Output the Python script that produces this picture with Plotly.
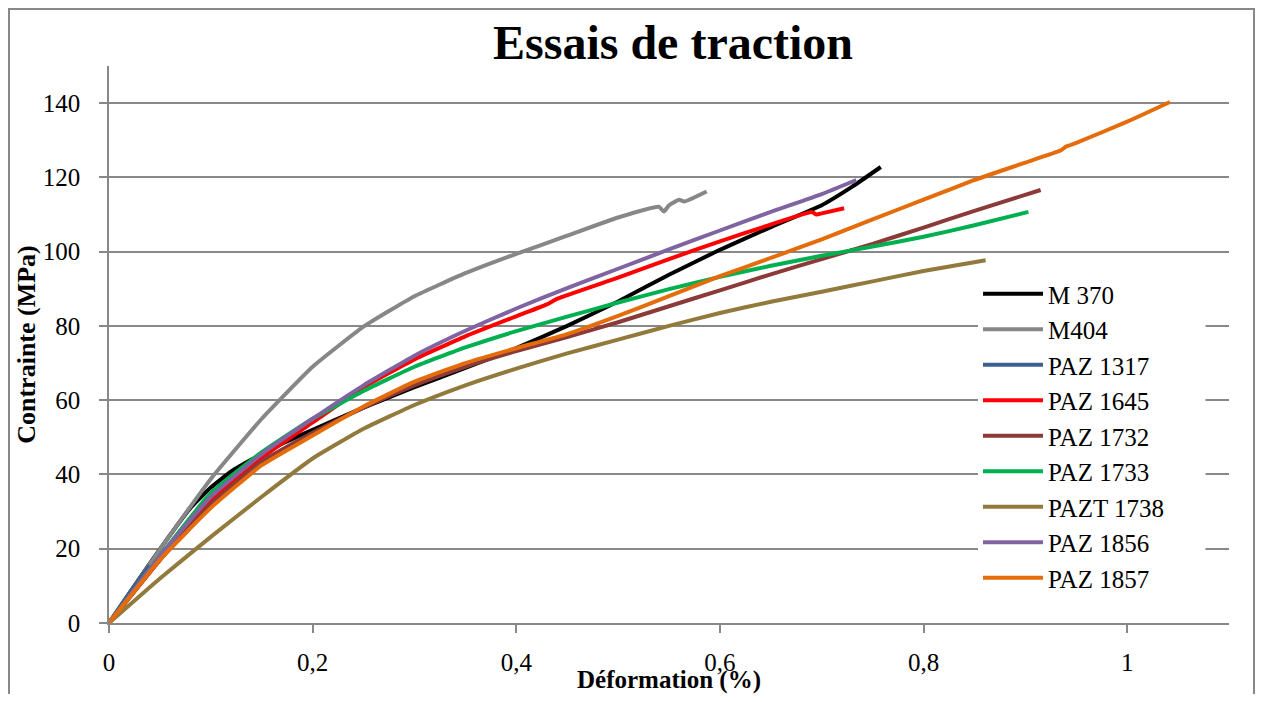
import plotly.graph_objects as go

# ---- data (déformation %, contrainte MPa) ----
m370_x = [0, 0.04, 0.08, 0.1, 0.12, 0.14, 0.17, 0.2, 0.25, 0.3, 0.35, 0.4, 0.45, 0.5, 0.55, 0.6, 0.65, 0.7, 0.73, 0.758]
m370_y = [0, 16, 31, 36.5, 40.8, 44, 48.3, 52, 58, 63.5, 68.7, 74, 80, 86.6, 93.8, 100.5, 106.6, 112.5, 117.5, 122.8]

m404_x = [0, 0.05, 0.1, 0.15, 0.2, 0.25, 0.3, 0.35, 0.4, 0.45, 0.5, 0.54, 0.545, 0.55, 0.56, 0.565, 0.587]
m404_y = [0, 19.8, 38.8, 55, 69, 79.8, 88, 94.2, 99.4, 104.3, 109.2, 112.1, 110.8, 112.5, 114, 113.5, 116.2]

paz1317_x = [0, 0.02, 0.04]
paz1317_y = [0, 8, 15.5]

paz1645_x = [0, 0.05, 0.1, 0.15, 0.2, 0.25, 0.3, 0.35, 0.4, 0.43, 0.44, 0.5, 0.55, 0.6, 0.65, 0.69, 0.695, 0.7, 0.722]
paz1645_y = [0, 17, 33, 44.5, 54, 63.5, 71, 77.2, 82.6, 85.8, 87.3, 93, 98, 102.8, 107.3, 110.7, 110, 110.3, 111.7]

paz1732_x = [0, 0.05, 0.1, 0.15, 0.2, 0.25, 0.3, 0.35, 0.4, 0.45, 0.5, 0.55, 0.6, 0.65, 0.7, 0.75, 0.8, 0.85, 0.915]
paz1732_y = [0, 17, 32, 43.5, 51.2, 58, 64, 69, 73.2, 77, 81, 85.3, 89.6, 93.9, 98, 102.1, 106.5, 111, 116.6]

paz1733_x = [0, 0.05, 0.1, 0.15, 0.2, 0.25, 0.3, 0.35, 0.4, 0.45, 0.5, 0.55, 0.6, 0.65, 0.7, 0.75, 0.8, 0.85, 0.903]
paz1733_y = [0, 18, 35, 46, 55, 62.5, 69, 74.2, 78.6, 82.5, 86.3, 89.9, 93.2, 96.2, 98.9, 101.4, 104, 107.1, 110.7]

pazt1738_x = [0, 0.05, 0.1, 0.15, 0.2, 0.25, 0.3, 0.35, 0.4, 0.45, 0.5, 0.55, 0.6, 0.65, 0.7, 0.75, 0.8, 0.861]
pazt1738_y = [0, 12, 23.2, 34, 44.3, 52.3, 58.7, 64, 68.5, 72.6, 76.3, 80, 83.5, 86.5, 89.2, 92, 94.8, 97.7]

paz1856_x = [0, 0.05, 0.1, 0.15, 0.2, 0.25, 0.3, 0.35, 0.4, 0.45, 0.5, 0.55, 0.6, 0.65, 0.7, 0.734]
paz1856_y = [0, 18, 34, 45.5, 55, 64, 72, 78.7, 84.7, 90.2, 95.4, 100.6, 105.7, 110.7, 115.5, 119.3]

paz1857_x = [0, 0.05, 0.1, 0.15, 0.2, 0.25, 0.3, 0.35, 0.4, 0.45, 0.5, 0.55, 0.6, 0.65, 0.7, 0.75, 0.8, 0.85, 0.9, 0.935, 0.94, 0.95, 1.0, 1.042]
paz1857_y = [0, 17, 31, 42.5, 50.5, 58.3, 65, 70, 74, 77.8, 82.7, 88, 93.4, 98.3, 103.3, 108.7, 114, 119.3, 124, 127.3, 128.3, 129.3, 135, 140.3]

names = ["M 370", "M404", "PAZ 1317", "PAZ 1645", "PAZ 1732", "PAZ 1733", "PAZT 1738", "PAZ 1856", "PAZ 1857"]
colors = ["#000000", "#878787", "#3C5F8E", "#FF0000", "#8B3A38", "#00B050", "#927A3C", "#8064A2", "#E46C0A"]
series = [(m370_x, m370_y), (m404_x, m404_y), (paz1317_x, paz1317_y), (paz1645_x, paz1645_y),
          (paz1732_x, paz1732_y), (paz1733_x, paz1733_y), (pazt1738_x, pazt1738_y),
          (paz1856_x, paz1856_y), (paz1857_x, paz1857_y)]

x_ticks = [0, 0.2, 0.4, 0.6, 0.8, 1.0]
y_ticks = [0, 20, 40, 60, 80, 100, 120, 140]

FONT = "Liberation Serif, Times New Roman, serif"
GRAY = "#888888"

fig = go.Figure()
for name, color, (xs, ys) in zip(names, colors, series):
    fig.add_trace(go.Scatter(x=xs, y=ys, name=name, mode="lines",
                             line=dict(color=color, width=4, shape="spline", smoothing=0.4)))

# page body has an 8px margin: figure coordinates = reference pixels - 8
L, T, R, B = 101, 58, 1221, 615
W, H = 1247, 686
pw, ph = R - L, B - T

fig.update_layout(
    width=W, height=H,
    margin=dict(l=L, r=W - R, t=T, b=H - B, autoexpand=False),
    paper_bgcolor="white", plot_bgcolor="white",
    separators=", ",
    font=dict(family=FONT, color="black"),
    title=dict(text="<b>Essais de traction</b>", font=dict(family=FONT, size=48, color="black"),
               x=665 / W, xref="container", xanchor="center",
               y=1 - 34 / H, yref="container", yanchor="middle"),
    showlegend=True,
    legend=dict(x=(970 - L) / pw, xanchor="left", y=(B - 263) / ph, yanchor="top",
                bgcolor="white", borderwidth=0, font=dict(family=FONT, size=25, color="black"),
                itemwidth=60, tracegroupgap=0, traceorder="normal"),
    xaxis=dict(range=[0, 1.1], tickvals=x_ticks, showgrid=False, zeroline=False,
               showline=True, linecolor=GRAY, linewidth=1.5,
               ticks="outside", ticklen=8, tickcolor=GRAY, tickwidth=1.5,
               ticklabelstandoff=8,
               tickfont=dict(family=FONT, size=25, color="black"),
               title=dict(text="<b>Déformation (%)</b>", font=dict(family=FONT, size=25, color="black"),
                          standoff=14),
               automargin=False),
    yaxis=dict(range=[0, 150], tickvals=y_ticks, showgrid=True, gridcolor=GRAY, gridwidth=1.5,
               zeroline=False, showline=True, linecolor=GRAY, linewidth=1.5,
               ticks="outside", ticklen=8, tickcolor=GRAY, tickwidth=1.5,
               ticklabelstandoff=14,
               tickfont=dict(family=FONT, size=25, color="black"),
               title=dict(text="<b>Contrainte (MPa)</b>", font=dict(family=FONT, size=26, color="black"),
                          standoff=0),
               automargin=False),
    shapes=[
        # white legend area extends a little to the right of the legend text (no traces there)
        dict(type="rect", xref="paper", yref="paper",
             x0=(1130 - L) / pw, x1=(1197 - L) / pw, y0=(B - 584) / ph, y1=(B - 275) / ph,
             line=dict(color="white", width=1), fillcolor="white", layer="above"),
        # outer chart border
        dict(type="rect", xref="paper", yref="paper",
             x0=(1 - L) / pw, x1=(1246 - L) / pw, y0=(B - 720) / ph, y1=(B - 1) / ph,
             line=dict(color=GRAY, width=2), fillcolor="rgba(0,0,0,0)", layer="above"),
    ],
)

fig.write_html("out.html")
